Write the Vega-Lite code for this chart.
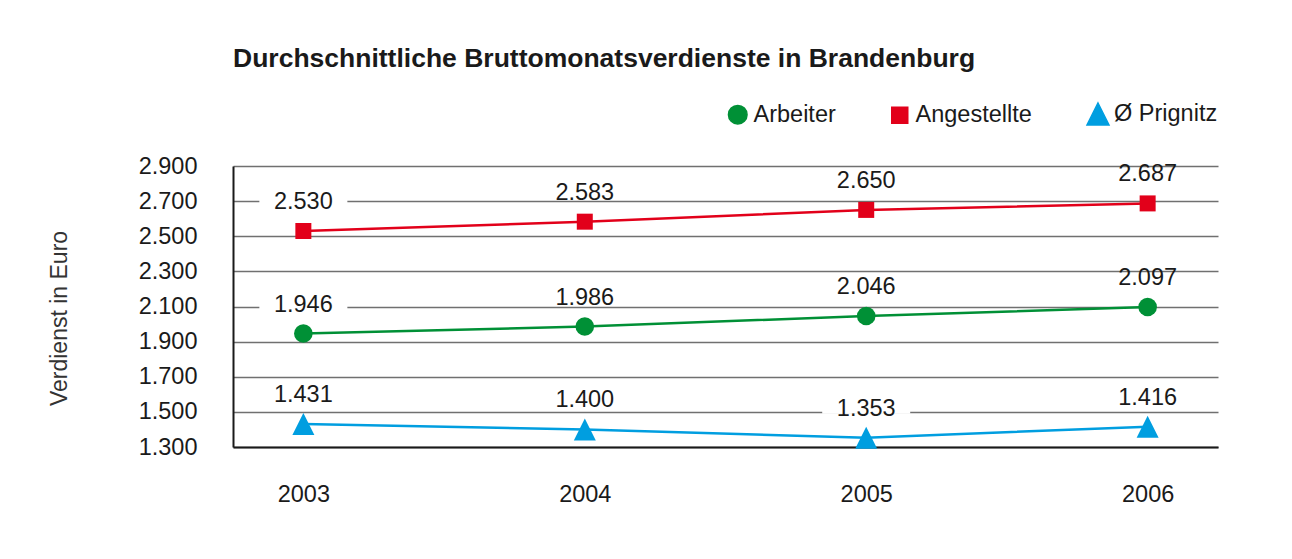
{
  "$schema": "https://vega.github.io/schema/vega-lite/v6.json",
  "width": 985,
  "height": 281,
  "autosize": {"type": "none"},
  "padding": {"left": 233, "top": 166, "right": 74, "bottom": 112},
  "background": "white",
  "title": {
    "text": "Durchschnittliche Bruttomonatsverdienste in Brandenburg",
    "anchor": "start",
    "frame": "group",
    "font": "Liberation Sans",
    "fontSize": 26.5,
    "fontWeight": "bold",
    "color": "#1a1a1a",
    "baseline": "alphabetic",
    "offset": 9
  },
  "data": {
    "values": [
      {"year": "2003", "series": "Arbeiter", "value": 1946},
      {"year": "2004", "series": "Arbeiter", "value": 1986},
      {"year": "2005", "series": "Arbeiter", "value": 2046},
      {"year": "2006", "series": "Arbeiter", "value": 2097},
      {"year": "2003", "series": "Angestellte", "value": 2530},
      {"year": "2004", "series": "Angestellte", "value": 2583},
      {"year": "2005", "series": "Angestellte", "value": 2650},
      {"year": "2006", "series": "Angestellte", "value": 2687},
      {"year": "2003", "series": "Ø Prignitz", "value": 1431},
      {"year": "2004", "series": "Ø Prignitz", "value": 1400},
      {"year": "2005", "series": "Ø Prignitz", "value": 1353},
      {"year": "2006", "series": "Ø Prignitz", "value": 1416}
    ]
  },
  "encoding": {
    "x": {
      "field": "year",
      "type": "ordinal",
      "scale": {"type": "point", "padding": 0.25},
      "axis": {
        "title": null,
        "labelAngle": 0,
        "ticks": false,
        "tickSize": 0,
        "domainColor": "#1a1a1a",
        "domainWidth": 2,
        "labelPadding": 47,
        "labelBaseline": "middle",
        "labelFontSize": 23.5,
        "labelFont": "Liberation Sans",
        "labelColor": "#1a1a1a",
        "grid": false
      }
    },
    "y": {
      "field": "value",
      "type": "quantitative",
      "scale": {"domain": [1300, 2900], "nice": false, "zero": false},
      "axis": {
        "title": "Verdienst in Euro",
        "values": [1300, 1500, 1700, 1900, 2100, 2300, 2500, 2700, 2900],
        "format": ",d",
        "ticks": false,
        "tickSize": 0,
        "labelPadding": 36,
        "labelFontSize": 23.5,
        "labelFont": "Liberation Sans",
        "labelColor": "#1a1a1a",
        "labelFlush": false,
        "labelOverlap": false,
        "grid": true,
        "gridColor": "#707070",
        "gridWidth": 1.5,
        "domainColor": "#1a1a1a",
        "domainWidth": 2,
        "titleFont": "Liberation Sans",
        "titleFontSize": 23,
        "titleFontWeight": "normal",
        "titleColor": "#333333",
        "titleX": -174,
        "titleY": 152,
        "titleAngle": -90,
        "titleAlign": "center",
        "titleBaseline": "middle"
      }
    }
  },
  "layer": [
    {
      "mark": {"type": "line", "strokeWidth": 2.5},
      "encoding": {
        "color": {
          "field": "series",
          "type": "nominal",
          "scale": {"domain": ["Arbeiter", "Angestellte", "Ø Prignitz"], "range": ["#009036", "#e2001a", "#009ee0"]},
          "legend": {
            "orient": "none",
            "legendX": 493,
            "legendY": -64,
            "direction": "horizontal",
            "title": null,
            "labelFontSize": 23.5,
            "labelFont": "Liberation Sans",
            "labelColor": "#1a1a1a",
            "columnPadding": 52,
            "labelOffset": 4,
            "symbolOpacity": 1,
            "padding": 0
          }
        }
      }
    },
    {
      "mark": {"type": "point", "filled": true, "opacity": 1},
      "encoding": {
        "color": {
          "field": "series",
          "type": "nominal",
          "scale": {"domain": ["Arbeiter", "Angestellte", "Ø Prignitz"], "range": ["#009036", "#e2001a", "#009ee0"]},
          "legend": {
            "orient": "none",
            "legendX": 493,
            "legendY": -64,
            "direction": "horizontal",
            "title": null,
            "labelFontSize": 23.5,
            "labelFont": "Liberation Sans",
            "labelColor": "#1a1a1a",
            "columnPadding": 52,
            "labelOffset": 4,
            "symbolOpacity": 1,
            "padding": 0
          }
        },
        "shape": {
          "field": "series",
          "type": "nominal",
          "scale": {"domain": ["Arbeiter", "Angestellte", "Ø Prignitz"], "range": ["circle", "square", "M0,-1L1,1H-1Z"]}
        },
        "size": {
          "field": "series",
          "type": "nominal",
          "scale": {"type": "ordinal", "domain": ["Arbeiter", "Angestellte", "Ø Prignitz"], "range": [346, 256, 484]}
        }
      }
    },
    {
      "mark": {"type": "point", "shape": "M-1,-0.1136H1V0.1136H-1Z", "size": 7744, "filled": true, "color": "white", "opacity": 1, "yOffset": -29, "strokeWidth": 0}
    },
    {
      "mark": {"type": "text", "yOffset": -29, "baseline": "middle", "fontSize": 23.5, "font": "Liberation Sans", "color": "#1a1a1a"},
      "encoding": {
        "text": {"field": "value", "type": "quantitative", "format": ",d"}
      }
    }
  ],
  "config": {
    "locale": {"number": {"decimal": ",", "thousands": ".", "grouping": [3], "currency": ["", " €"]}},
    "view": {"stroke": null},
    "font": "Liberation Sans"
  }
}
